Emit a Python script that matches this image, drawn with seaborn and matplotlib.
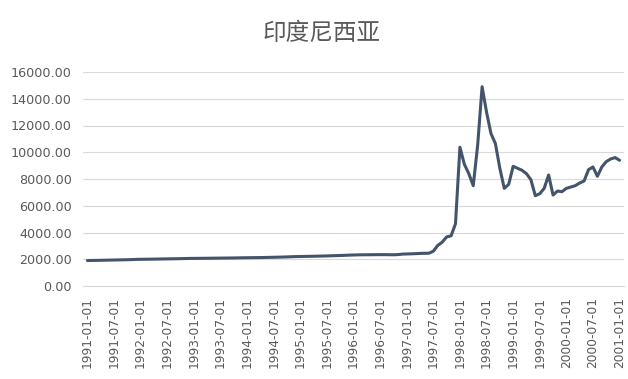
import matplotlib
matplotlib.use("Agg")
import matplotlib.pyplot as plt
import seaborn as sns
import pandas as pd
import numpy as np

# Monthly IDR per USD exchange rate, 1991-01 .. 2001-01
rate_1991 = [1905, 1910, 1916, 1922, 1929, 1936, 1943, 1950, 1957, 1964, 1975, 1990]
rate_1992 = [1995, 2000, 2005, 2010, 2016, 2022, 2028, 2033, 2038, 2045, 2053, 2062]
rate_1993 = [2065, 2068, 2071, 2074, 2078, 2082, 2086, 2089, 2093, 2098, 2104, 2110]
rate_1994 = [2114, 2118, 2122, 2127, 2133, 2140, 2148, 2156, 2165, 2175, 2187, 2200]
rate_1995 = [2206, 2212, 2218, 2225, 2233, 2241, 2250, 2260, 2270, 2280, 2294, 2308]
rate_1996 = [2318, 2328, 2334, 2336, 2338, 2342, 2344, 2345, 2340, 2335, 2347, 2383]
rate_1997 = [2396, 2405, 2419, 2436, 2446, 2450, 2599, 3035, 3275, 3670, 3748, 4650]
rate_1998 = [10375, 9100, 8400, 7500, 10525, 14900, 13000, 11400, 10650, 8800, 7300, 7600]
rate_1999 = [8950, 8800, 8650, 8400, 7950, 6750, 6900, 7300, 8300, 6800, 7100, 7050]
rate_2000 = [7300, 7400, 7500, 7700, 7850, 8700, 8900, 8200, 8900, 9300, 9500, 9600]
rate_2001 = [9400]

rates = (rate_1991 + rate_1992 + rate_1993 + rate_1994 + rate_1995 + rate_1996
         + rate_1997 + rate_1998 + rate_1999 + rate_2000 + rate_2001)
dates = pd.date_range("1991-01-01", periods=len(rates), freq="MS")
tick_labels = [d.strftime("%Y-%m-%d") for d in dates[::6]]
y_ticks = list(range(0, 16001, 2000))

df = pd.DataFrame({"idx": np.arange(len(rates)), "rate": rates})

sns.set_theme(style="white")
plt.rcParams["font.family"] = ["DejaVu Sans"]

fig = plt.figure(figsize=(6.28, 3.79), dpi=100)
ax = fig.add_axes([83 / 628, 1 - 286 / 379, (624 - 83) / 628, (286 - 72) / 379])

sns.lineplot(data=df, x="idx", y="rate", ax=ax, color="#44546A", linewidth=2.2)

ax.set_xlim(-1, len(rates))
ax.set_ylim(0, 16000)
ax.set_yticks(y_ticks)
ax.set_yticklabels([f"{v:.2f}" for v in y_ticks], fontsize=9.2, color="#595959")
ax.set_xticks(np.arange(0, len(rates), 6))
ax.set_xticklabels(tick_labels, rotation=90, fontsize=8.8, color="#595959")
ax.tick_params(axis="y", length=0, pad=8)
ax.tick_params(axis="x", length=0, pad=8)
ax.set_xlabel("")
ax.set_ylabel("")

for v in y_ticks[1:]:
    ax.axhline(v, color="#d9d9d9", linewidth=0.8, zorder=0)
for side in ["top", "right", "left"]:
    ax.spines[side].set_visible(False)
ax.spines["bottom"].set_color("#d9d9d9")
ax.spines["bottom"].set_linewidth(0.8)

fig.text(322 / 628, 1 - 34 / 379, "印度尼西亚", ha="center", va="center",
         fontsize=17, color="#595959", family=["Noto Sans CJK SC", "DejaVu Sans"])

fig.savefig("out.png", dpi=100, facecolor="white")
